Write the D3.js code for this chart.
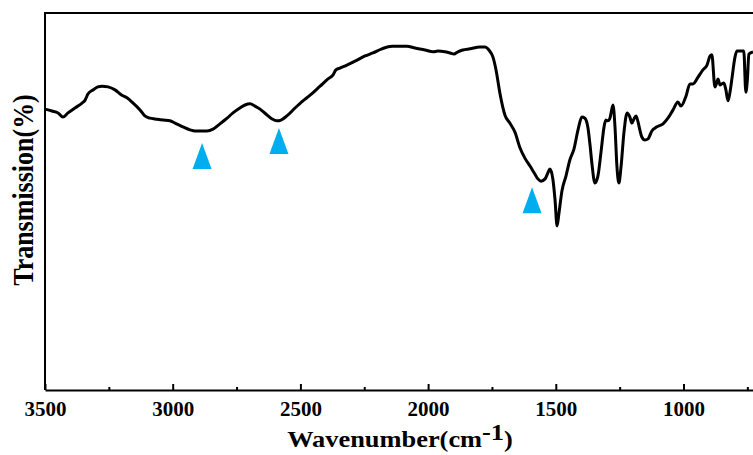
<!DOCTYPE html>
<html>
<head>
<meta charset="utf-8">
<script src="https://cdn.jsdelivr.net/npm/d3@7"></script>
<style>
  body { margin: 0; background: #fff; }
  svg { display: block; }
  .axis path, .axis line { stroke: #000; stroke-width: 2; }
  .axis text { font-family: 'Times New Roman', 'Liberation Serif', serif; font-weight: bold; font-size: 21px; fill: #000; }
  .title { font-family: 'Times New Roman', 'Liberation Serif', serif; font-weight: bold; fill: #000; }
</style>
</head>
<body>
<svg id="chart"></svg>
<script>
'use strict';

// FTIR spectrum (wavenumber in cm-1, transmission in arbitrary %)
var wavenumber = [3500, 3473, 3449, 3430, 3410, 3383, 3355, 3343, 3332, 3312, 3293, 3277, 3253, 3226, 3199, 3179,
  3155, 3128, 3109, 3089, 3069, 3038, 3011, 2991, 2960, 2932, 2913, 2885, 2866, 2842, 2815, 2787, 2764, 2737,
  2717, 2697, 2678, 2658, 2635, 2611, 2592, 2576, 2553, 2521, 2490, 2462, 2423, 2392, 2372, 2361, 2345, 2318,
  2278, 2247, 2216, 2181, 2141, 2110, 2083, 2051, 2012, 1981, 1961, 1934, 1914, 1899, 1883, 1864, 1836, 1797,
  1777, 1762, 1746, 1734, 1719, 1699, 1680, 1660, 1640, 1621, 1601, 1582, 1570, 1558, 1542, 1531, 1523, 1511,
  1503, 1495, 1488, 1476, 1460, 1445, 1429, 1413, 1398, 1386, 1374, 1366, 1358, 1347, 1335, 1323, 1311, 1304,
  1296, 1288, 1276, 1268, 1261, 1253, 1245, 1233, 1221, 1210, 1202, 1194, 1186, 1178, 1171, 1163, 1151, 1139,
  1124, 1104, 1080, 1061, 1041, 1022, 1010, 990, 975, 963, 943, 924, 908, 896, 889, 877, 869, 865, 857, 850,
  842, 834, 826, 818, 810, 799, 791, 771, 764, 756, 750, 744, 728]
var transmission = [74.5, 74.0, 73.5, 72.4, 73.5, 74.8, 76.1, 76.9, 78.5, 79.6, 80.4, 80.6, 80.4, 79.6, 78.2, 77.5,
  76.1, 74.3, 72.7, 72.1, 71.9, 71.6, 71.4, 70.8, 69.8, 69.0, 68.7, 68.7, 68.7, 69.2, 70.6, 72.1, 73.5, 74.8,
  75.6, 75.9, 75.3, 74.5, 73.2, 71.9, 71.4, 71.6, 72.7, 74.8, 76.7, 78.2, 80.6, 82.5, 83.6, 84.9, 85.4, 86.2,
  87.5, 88.6, 89.4, 90.5, 91.2, 91.2, 91.2, 90.7, 90.2, 89.7, 89.9, 89.7, 89.4, 89.1, 89.7, 90.2, 90.5, 91.0,
  91.0, 90.2, 88.3, 84.9, 78.8, 72.9, 70.8, 68.4, 64.2, 61.5, 59.4, 57.3, 56.0, 55.4, 56.0, 57.6, 58.6, 55.7,
  50.4, 43.5, 46.7, 52.8, 56.8, 61.0, 63.9, 69.0, 72.4, 72.1, 69.5, 65.0, 59.7, 54.9, 56.8, 63.1, 69.8, 71.6,
  71.4, 72.1, 75.6, 69.5, 59.7, 54.9, 58.9, 68.4, 73.5, 72.4, 70.8, 71.9, 72.7, 71.1, 69.0, 67.1, 66.3, 66.6,
  68.7, 69.8, 70.6, 72.1, 74.3, 76.4, 75.3, 78.0, 81.2, 81.2, 83.0, 84.9, 86.2, 88.6, 88.9, 80.4, 81.7, 82.5,
  80.9, 81.2, 81.4, 79.6, 76.7, 79.0, 82.8, 88.1, 89.9, 89.9, 89.9, 79.0, 82.2, 89.1, 89.7]

// arrows marking the bands discussed in the text (apex position)
var markWavenumber = [2885, 2584, 1593]
var markTransmission = [65.5, 69.5, 53.8]

var majorTicks = [3500, 3000, 2500, 2000, 1500, 1000]
var minorTicks = [3250, 2750, 2250, 1750, 1250, 750]

var width = 753,
  height = 455,
  margin = { left: 45, top: 13, bottom: 65 },
  drawHeight = height - margin.top - margin.bottom

var svg = d3.select('#chart')
  .attr('width', width)
  .attr('height', height)

var xScale = d3.scaleLinear()
  .domain([3500, 700])
  .range([margin.left, margin.left + 2800 * 0.2554])

var yScale = d3.scaleLinear()
  .domain([0, 100])
  .range([margin.top + drawHeight, margin.top])

var data = wavenumber.map(function(w, i) {
  return { w: w, t: transmission[i] }
})

// frame (right side runs off the picture)
svg.append('path')
  .attr('d', 'M' + xScale.range()[1] + ',' + yScale(100) + 'H' + xScale(3500) + 'V' + yScale(0))
  .attr('fill', 'none')
  .attr('stroke', '#000')
  .attr('stroke-width', 2)

var xAxis = d3.axisBottom(xScale)
  .tickValues(majorTicks)
  .tickSizeInner(-6)
  .tickSizeOuter(0)
  .tickPadding(11)
  .tickFormat(d3.format('d'))

svg.append('g')
  .attr('class', 'axis')
  .attr('transform', 'translate(0,' + yScale(0) + ')')
  .call(xAxis)

svg.append('g')
  .attr('class', 'axis')
  .attr('transform', 'translate(0,' + yScale(0) + ')')
  .call(d3.axisBottom(xScale).tickValues(minorTicks).tickSizeInner(-3).tickSizeOuter(0).tickFormat(''))
  .select('.domain').remove()

var line = d3.line()
  .x(function(d) { return xScale(d.w) })
  .y(function(d) { return yScale(d.t) })
  .curve(d3.curveMonotoneX)

svg.append('path')
  .datum(data)
  .attr('d', line)
  .attr('fill', 'none')
  .attr('stroke', '#000')
  .attr('stroke-width', 3)
  .attr('stroke-linejoin', 'round')

svg.selectAll('.mark')
  .data(markWavenumber)
  .enter().append('path')
  .attr('class', 'mark')
  .attr('d', function(d, i) {
    var x = xScale(d), y = yScale(markTransmission[i])
    return 'M' + x + ',' + y + 'L' + (x + 9.5) + ',' + (y + 26) + 'L' + (x - 9.5) + ',' + (y + 26) + 'Z'
  })
  .attr('fill', '#00aeef')

// titles are a bit wider than the font in the original, so stretch them slightly
var xTitle = svg.append('text')
  .attr('class', 'title')
  .attr('transform', 'translate(400,447) scale(1.1,1)')
  .attr('text-anchor', 'middle')
  .style('font-size', '24px')
xTitle.append('tspan').text('Wavenumber(cm')
xTitle.append('tspan').attr('dy', -7).text('-1')
xTitle.append('tspan').attr('dy', 7).text(')')

svg.append('text')
  .attr('class', 'title')
  .attr('transform', 'translate(33,190) scale(1.15,1) rotate(-90)')
  .attr('text-anchor', 'middle')
  .style('font-size', '26px')
  .text('Transmission(%)')
</script>
</body>
</html>
